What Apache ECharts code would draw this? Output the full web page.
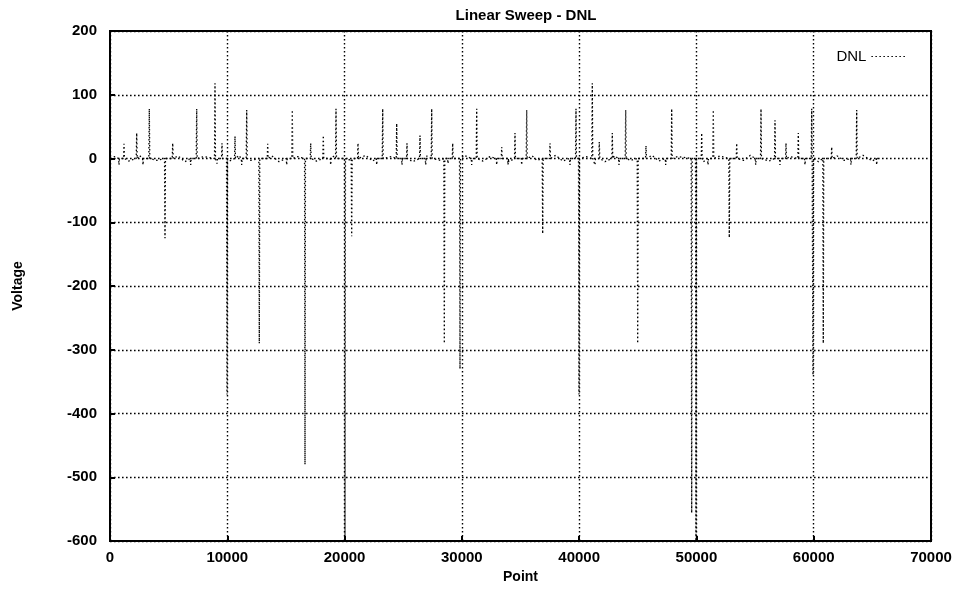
<!doctype html>
<html lang="en">
<head>
	<meta charset="UTF-8">
	<title>Linear Sweep - DNL</title>
	<style>
		html, body { margin: 0; padding: 0; background: #fff; }
		#main { width: 963px; height: 589px; }
	</style>
	<script src="https://cdn.jsdelivr.net/npm/echarts@6/dist/echarts.min.js"></script>
</head>
<body>
<div id="main"></div>
<script type="text/javascript">
	// spikes (point index, voltage)
	var spikeX = [767, 1194, 2276, 2814, 3351, 4689, 5346, 6881, 7392, 8952, 9123, 9549, 9975,
		10658, 11229, 11655, 12730, 13446, 15066, 15543, 16626, 17112, 18186, 18817, 19269,
		20036, 20607, 21145, 22739, 23251, 24444, 24896, 25322, 26431, 26917, 27428, 28504,
		28819, 29219, 29841, 30839, 31265, 32970, 33397, 33934, 34530, 35102, 35528, 36892,
		37514, 39220, 39731, 39987, 41121, 41352, 41718, 42827, 43398, 43969, 44992, 45700,
		47379, 47891, 49595, 49962, 50449, 50986, 51438, 52802, 53433, 55053, 55505, 56699,
		57124, 57636, 58685, 59256, 59828, 59938, 60816, 61533, 63177, 63664, 65369];
	var spikeY = [-10, 23, 40, -10, 78, -125, 24, -10, 78, 118, -8, 24, -370,
		35, -10, 76, -290, 23, -10, 76, -480, 24, 36, -10, 78,
		-600, -122, 24, -10, 78, 55, -10, 24, 36, -10, 78, -290,
		-8, 24, -330, -10, 78, -10, 18, -10, 40, -10, 76, -118,
		24, -10, 78, -370, 118, -10, 26, 40, -10, 76, -290, 20,
		-10, 78, -556, -600, 40, -10, 76, -124, 24, -10, 78, 60,
		-10, 24, 40, -10, 78, -340, -290, 18, -10, 76, -10];

	// small ripple on the baseline
	var rippleX = [400, 1600, 2500, 4000, 5800, 6400, 8000, 10200, 11000, 12000, 13800, 14400,
		16000, 17600, 19000, 20300, 21800, 22400, 24000, 25800, 27000, 28200, 30200, 31800,
		32400, 34000, 36000, 36400, 38000, 38600, 40600, 42200, 43000, 44400, 46200, 46800,
		48400, 50600, 52000, 54000, 54600, 56200, 58000, 60400, 62000, 62600, 64200, 65000];
	var rippleY = [3, -4, 5, -3, 4, -5, 3, -4, 5, -3, 4, -5,
		3, -4, 4, -3, 5, -4, 3, -5, 4, -3, 5, -4,
		3, -5, 4, -3, 5, -4, 3, -5, 4, -3, 5, -4,
		3, -5, 4, -3, 5, -4, 3, -5, 4, -3, 5, -4];

	var xTicks = [0, 10000, 20000, 30000, 40000, 50000, 60000, 70000];
	var yTicks = [-600, -500, -400, -300, -200, -100, 0, 100, 200];

	var pts = [[0, 0], [65535, 0]];
	for (var i = 0; i < spikeX.length; i++) {
		pts.push([spikeX[i] - 40, 0]);
		pts.push([spikeX[i], spikeY[i]]);
		pts.push([spikeX[i] + 40, 0]);
	}
	for (var j = 0; j < rippleX.length; j++) {
		pts.push([rippleX[j], rippleY[j]]);
	}
	pts.sort(function (a, b) { return a[0] - b[0]; });

	var font = '"Liberation Sans", Arial, sans-serif';
	var dots = { color: '#000', type: [1.6, 2.4], width: 1.4 };
	var myChart = echarts.init(document.getElementById('main'));
	var option = {
		animation: false,
		backgroundColor: '#fff',
		title: {
			text: 'Linear Sweep - DNL',
			left: 521, top: 3, textAlign: 'center',
			textStyle: { fontFamily: font, fontSize: 15, fontWeight: 'bold', color: '#000' }
		},
		legend: {
			data: ['DNL'],
			right: 52, top: 44,
			align: 'right',
			itemWidth: 34, itemHeight: 10, itemGap: 8,
			itemStyle: { opacity: 0 },
			lineStyle: { color: '#000', type: [1.5, 2.5], width: 1.2 },
			textStyle: { fontFamily: font, fontSize: 15, color: '#000' }
		},
		grid: {
			left: 110, right: 32, top: 31, bottom: 48,
			show: true, borderColor: '#000', borderWidth: 2
		},
		xAxis: {
			type: 'value',
			min: xTicks[0], max: xTicks[xTicks.length - 1], interval: 10000,
			name: 'Point', nameLocation: 'middle', nameGap: 27,
			nameTextStyle: { fontFamily: font, fontSize: 14, fontWeight: 'bold', color: '#000' },
			axisLine: { onZero: false, lineStyle: { color: '#000', width: 2 } },
			axisTick: { inside: true, length: 5, lineStyle: { color: '#000', width: 2 } },
			axisLabel: {
				fontFamily: font, fontSize: 15, fontWeight: 'bold', color: '#000', margin: 9,
				formatter: function (v) { return String(v); }
			},
			splitLine: { lineStyle: dots }
		},
		yAxis: {
			type: 'value',
			min: yTicks[0], max: yTicks[yTicks.length - 1], interval: 100,
			name: 'Voltage', nameLocation: 'middle', nameGap: 85, nameRotate: 90,
			nameTextStyle: { fontFamily: font, fontSize: 14, fontWeight: 'bold', color: '#000' },
			axisLine: { onZero: false, lineStyle: { color: '#000', width: 2 } },
			axisTick: { inside: true, length: 5, lineStyle: { color: '#000', width: 2 } },
			axisLabel: { fontFamily: font, fontSize: 15, fontWeight: 'bold', color: '#000', margin: 13 },
			splitLine: { lineStyle: dots }
		},
		series: [{
			name: 'DNL',
			type: 'line',
			data: pts,
			symbol: 'none',
			clip: true,
			lineStyle: { color: '#000', width: 1.3, type: [1.5, 2.5] },
			itemStyle: { color: '#000' }
		}]
	};
	myChart.setOption(option);
</script>
</body>
</html>
